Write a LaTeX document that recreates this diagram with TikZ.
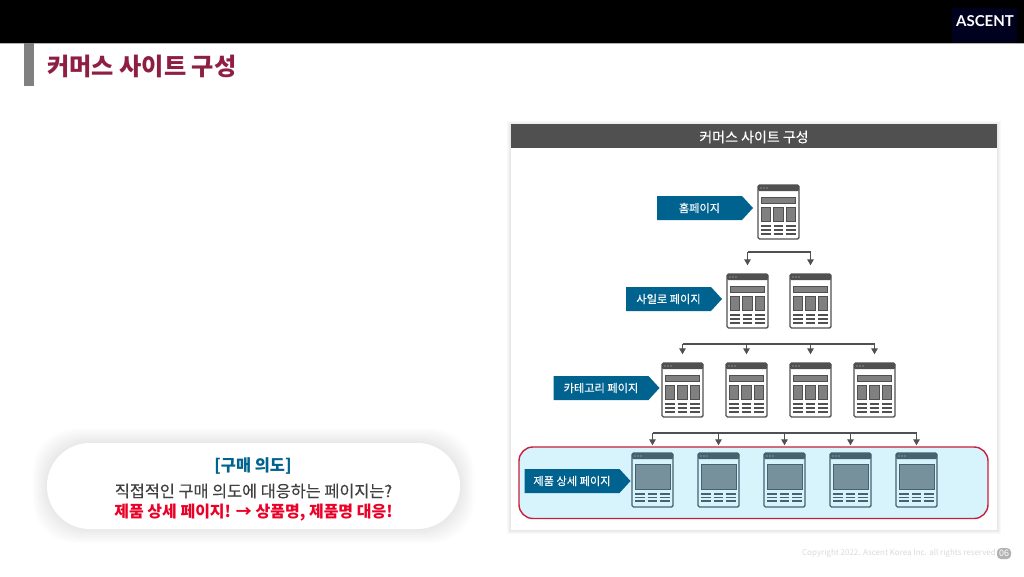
\documentclass[tikz,border=0pt]{standalone}
\usepackage{fontspec}
\setmainfont{Noto Sans CJK KR}
\newfontfamily\medfont[FakeBold=0.25]{Noto Sans CJK KR}
\newfontfamily\logofont{Lato}
\usetikzlibrary{arrows.meta,shapes.symbols}
\definecolor{tagblue}{HTML}{00628F}
\definecolor{iconline}{HTML}{505050}
\definecolor{iconfill}{HTML}{808080}
\definecolor{detailline}{HTML}{47626F}
\definecolor{detailfill}{HTML}{76919C}
\definecolor{titlered}{HTML}{8E1F42}
\definecolor{zonefill}{HTML}{D7F4FD}
\definecolor{zoneline}{HTML}{C8203C}
\definecolor{answerred}{HTML}{EB0028}
\newcommand{\fsize}[1]{\fontsize{#1}{#1}\selectfont}
\tikzset{
  pagetag/.style={signal,signal to=east,signal pointer angle=95,fill=tagblue,text=white,
    inner sep=0pt,minimum height=24pt,font=\medfont\fsize{11.2}},
  pageframe/.style={draw=#1,line width=1.4pt,rounded corners=1.5pt,minimum width=41pt,minimum height=54pt,inner sep=0pt},
  busline/.style={draw=iconline,line width=1.2pt},
  busarrow/.style={busline,-{Triangle[length=6pt,width=6.5pt]}},
  listpage/.pic={
    \node[pageframe=iconline,fill=white] (frame) at (20.5,27) {};
    \fill[iconline,rounded corners=1pt] (0,0) rectangle (41,6);
    \foreach \x in {3,6,9} \fill[white!70!iconline] (\x,3) circle (0.7pt);
    \draw[iconline,fill=iconfill,line width=0.8pt] (3.2,12) rectangle (37.8,18);
    \foreach \x in {3.2,15.7,28.3} \draw[iconline,fill=iconfill,line width=0.8pt] (\x,22) rectangle (\x+9.5,36.5);
    \foreach \x in {3.2,15.7,28.3} \foreach \y in {41,45,49} \draw[iconline,line width=1.3pt] (\x,\y) -- (\x+9.5,\y);
  },
  detailpage/.pic={
    \node[pageframe=detailline] (frame) at (20.5,27) {};
    \fill[detailline,rounded corners=1pt] (0,0) rectangle (41,6);
    \foreach \x in {3,6,9} \fill[white!70!detailline] (\x,3) circle (0.7pt);
    \draw[detailline,fill=detailfill,line width=0.8pt] (3,11) rectangle (38,36);
    \foreach \x in {3.2,15.7,28.3} \foreach \y in {41,44.5,48} \draw[detailline,line width=1.3pt] (\x,\y) -- (\x+9.5,\y);
  },
}
\begin{document}
\begin{tikzpicture}[x=1pt,y=-1pt]
\useasboundingbox (0,0) rectangle (1024,576);
% header
\fill[black] (0,0) rectangle (1024,42.5);
\fill[gray!60] (0,42.5) rectangle (1024,43.5);
\fill[black!88!blue] (952,8) rectangle (1017,42);
\node[text=white,inner sep=0pt,font=\logofont\bfseries\fsize{15}] (logo) at (985,21) {ASCENT};
\fill[iconfill] (24,43) rectangle (34,86);
\node[anchor=west,inner sep=0pt,text=titlered,font=\bfseries\fsize{24.2}] (pagetitle) at (47,66.5) {커머스 사이트 구성};
% panel
\foreach \s in {4,3,2,1} \fill[black,opacity=0.025] (511-\s,124-\s+1) rectangle (997+\s,530+\s);
\fill[white] (511,124) rectangle (997,530);
\fill[iconline] (511,124) rectangle (997,148);
\node[text=white,inner sep=0pt,font=\medfont\fsize{14}] (paneltitle) at (754,137) {커머스 사이트 구성};
\draw[zoneline,fill=zonefill,line width=1.4pt,rounded corners=14pt] (519,447) rectangle (988,518.5);
% page tags
\node[pagetag,minimum width=96pt] (hometag) at (699.5,208) {홈페이지};
\node[pagetag,minimum width=96pt] (silotag) at (668.5,299) {사일로 페이지};
\node[pagetag,minimum width=106pt] (cattag) at (601,388) {카테고리 페이지};
\node[pagetag,minimum width=106pt] (detailtag) at (572,481) {제품 상세 페이지};
% pages
\pic (home) at (758,185) {listpage};
\foreach \n/\x in {1/727,2/790} \pic (silo\n) at (\x,274) {listpage};
\foreach \n/\x in {1/662,2/726,3/790,4/854} \pic (cat\n) at (\x,363) {listpage};
\foreach \n/\x in {1/632,2/698,3/764,4/830,5/896} \pic (detail\n) at (\x,453) {detailpage};
% connectors
\coordinate (bussilo) at (747,252);
\coordinate (buscat) at (682,344);
\coordinate (busdetail) at (654,433);
\draw[busline] (silo1frame.north |- bussilo) -- (silo2frame.north |- bussilo);
\draw[busline] (cat1frame.north |- buscat) -- (cat4frame.north |- buscat);
\draw[busline] (detail1frame.north |- busdetail) -- (detail5frame.north |- busdetail);
\foreach \n in {1,2} \draw[busarrow,shorten >=8pt] (silo\n frame.north |- bussilo) -- (silo\n frame.north);
\foreach \n in {1,2,3,4} \draw[busarrow,shorten >=8pt] (cat\n frame.north |- buscat) -- (cat\n frame.north);
\foreach \n in {1,2,3,4,5} \draw[busarrow,shorten >=7pt] (detail\n frame.north |- busdetail) -- (detail\n frame.north);
% callout
\foreach \s in {14,12,10,8,6,4,2} \fill[black,opacity=0.011,rounded corners=43pt] (47-\s,443-\s) rectangle (460+\s,529+\s);
\fill[white,rounded corners=43pt] (47,443) rectangle (460,529);
\node[inner sep=0pt,text=tagblue,font=\bfseries\fsize{16.4}] (intenthead) at (253,466) {[구매 의도]};
\node[inner sep=0pt,text=black!75,font=\medfont\fsize{16.3}] (intentask) at (253.5,491) {직접적인 구매 의도에 대응하는 페이지는?};
\node[inner sep=0pt,text=answerred,font=\bfseries\fsize{16}] (intentans) at (253.5,513) {제품 상세 페이지! → 상품명, 제품명 대응!};
% footer
\node[anchor=east,inner sep=0pt,text=black!15,font=\fsize{8}] (copyright) at (996,553) {Copyright 2022. Ascent Korea Inc. all rights reserved};
\fill[black!30,rounded corners=4pt] (997,548) rectangle (1011,559);
\node[inner sep=0pt,text=white,font=\fsize{9}] (pagenum) at (1004,553.5) {06};
\end{tikzpicture}
\end{document}
